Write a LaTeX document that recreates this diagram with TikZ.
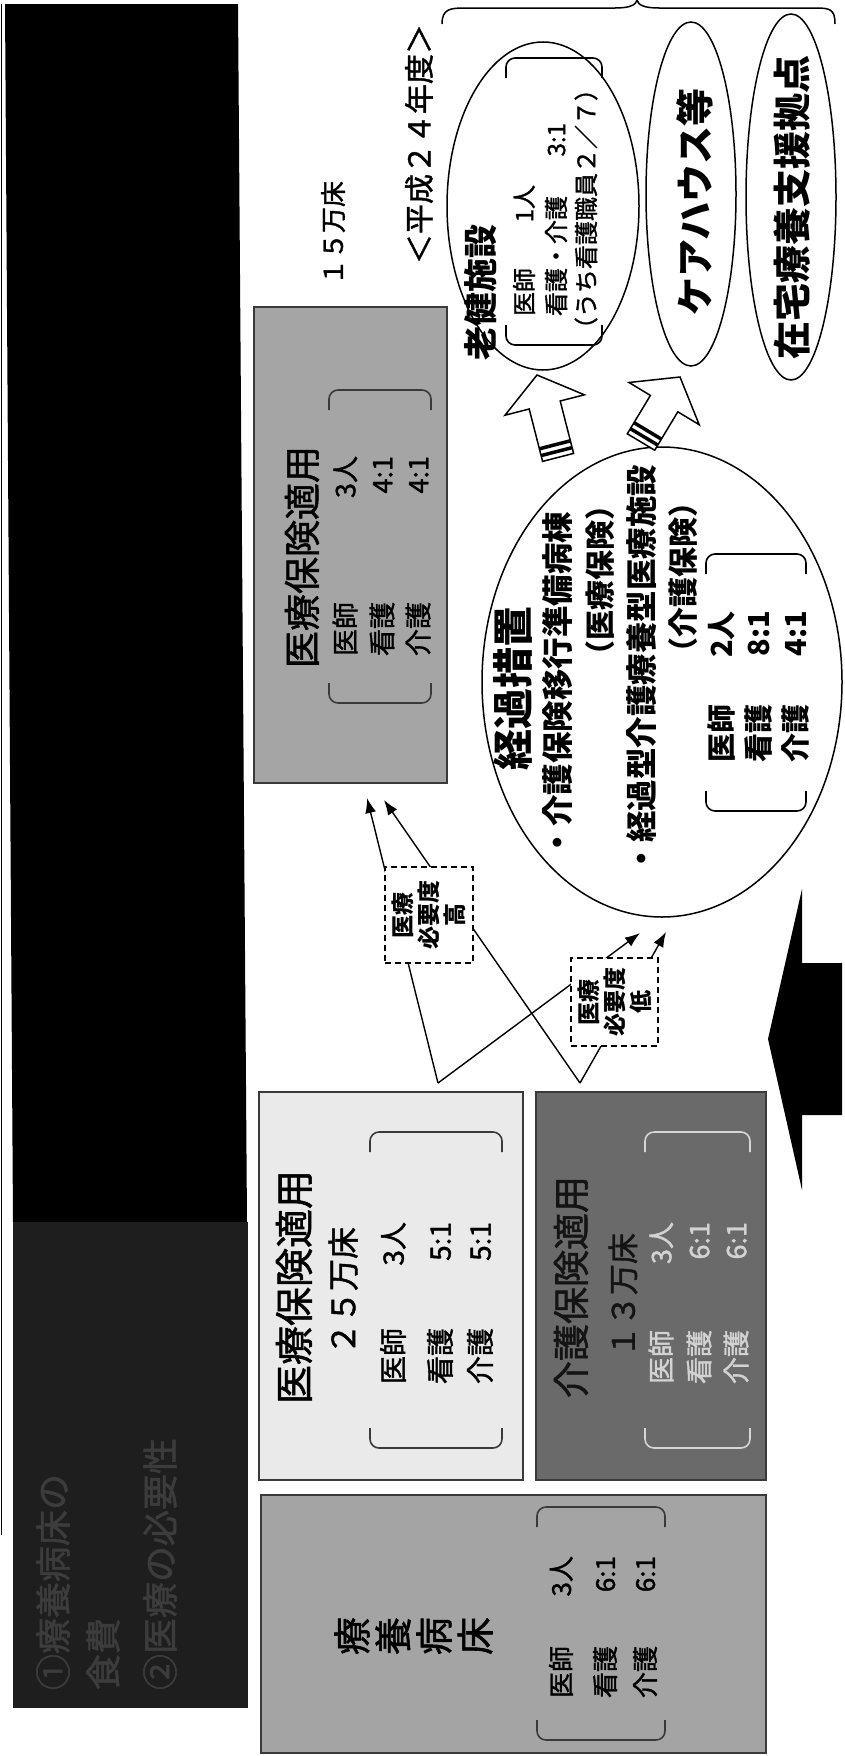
\documentclass[tikz,border=0pt]{standalone}
\usepackage{fontspec}
\setmainfont{Noto Sans CJK JP}[UprightFeatures={FakeBold=1.4}]
\usetikzlibrary{shapes.geometric,arrows.meta}
\definecolor{boxG}{HTML}{A5A5A5}
\definecolor{boxA}{HTML}{EAEAEA}
\definecolor{boxB}{HTML}{6A6A6A}
\definecolor{boxC}{HTML}{A4A4A4}
\definecolor{darkrect}{HTML}{1E1E1E}
\definecolor{faint}{HTML}{3C3C3C}
\definecolor{edge}{HTML}{3A3A3A}
\definecolor{lightbrk}{HTML}{D6D6D6}
\definecolor{lighttxt}{HTML}{D2D2D2}
\newcommand\fsz[1]{\fontsize{#1}{#1}\selectfont}
\newcommand\rl[3]{\makebox[#3pt][l]{#1\hfill#2}}
\newcommand\mybrk[5]{%
  \draw[brk,#5] (#1,#3+20) -- (#1,#3) -- (#2,#3) -- (#2,#3+20);
  \draw[brk,#5] (#1,#4-20) -- (#1,#4) -- (#2,#4) -- (#2,#4-20);}
\begin{document}
\begin{tikzpicture}[x=1pt,y=-1pt,
  txt/.style={rotate=90, inner sep=0pt, outer sep=0pt},
  panel/.style={draw=edge, line width=1.5pt, anchor=north west, inner sep=0pt},
  oval/.style={ellipse, draw, line width=1.5pt, inner sep=0pt},
  dbox/.style={draw, dash pattern=on 6pt off 4pt, line width=1.5pt, fill=white, inner sep=0pt},
  linkarrow/.style={line width=1.4pt, -{Latex[length=15pt,width=11pt]}},
  brk/.style={line width=1.6pt, rounded corners=9pt},
  hollow/.style={draw, fill=white, line width=1.5pt, line join=miter}]
\useasboundingbox (0,0) rectangle (845,1756);
\fill[white] (0,0) rectangle (845,1756);

% left dark block
\fill[black] (5,4) -- (238,4) -- (247,1222) -- (13,1222) -- cycle;
\fill[darkrect] (13,1222) rectangle (248,1708);
\draw[line width=0.8pt] (1.5,4) -- (1.5,1535);
\node[txt, anchor=west, text=faint, font=\fsz{36}] (f1) at (53,1690) {①療養病床の};
\node[txt, anchor=west, text=faint, font=\fsz{36}] (f2) at (103,1690) {食費};
\node[txt, anchor=west, text=faint, font=\fsz{36}] (f3) at (160,1690) {②医療の必要性};

% gray box (upper)
\node[panel, fill=boxG, minimum width=193pt, minimum height=476pt] (G) at (253,306) {};
\node[txt, font=\fsz{37}] (gT) at (302,557) {医療保険適用};
\mybrk{329}{431}{390}{703}{draw=edge}
\node[txt, anchor=west, font=\fsz{27}] (g1) at (345,656) {\rl{医師}{3人}{200}};
\node[txt, anchor=west, font=\fsz{27}] (g2) at (382,656) {\rl{看護}{4:1}{200}};
\node[txt, anchor=west, font=\fsz{27}] (g3) at (418,656) {\rl{介護}{4:1}{200}};

% lower boxes
\node[panel, fill=boxA, minimum width=264pt, minimum height=388pt] (A) at (258,1091) {};
\node[txt, font=\fsz{39}] (aT) at (294,1287) {医療保険適用};
\node[txt, font=\fsz{32}] (aS) at (343,1291) {２５万床};
\mybrk{370}{502}{1132}{1448}{draw=edge}
\node[txt, anchor=west, font=\fsz{28}] (a1) at (393,1384) {\rl{医師}{3人}{162}};
\node[txt, anchor=west, font=\fsz{28}] (a2) at (440,1384) {\rl{看護}{5:1}{162}};
\node[txt, anchor=west, font=\fsz{28}] (a3) at (480,1384) {\rl{介護}{5:1}{162}};

\node[panel, fill=boxB, minimum width=230pt, minimum height=388pt] (B) at (535,1091) {};
\node[txt, font=\fsz{37}, text=black!92] (bT) at (571,1287) {介護保険適用};
\node[txt, font=\fsz{31}, text=black!92] (bS) at (623,1295) {１３万床};
\mybrk{645}{750}{1132}{1448}{draw=lightbrk}
\node[txt, anchor=west, font=\fsz{27}, text=lighttxt] (b1) at (661,1384) {\rl{医師}{3人}{162}};
\node[txt, anchor=west, font=\fsz{27}, text=lighttxt] (b2) at (699,1384) {\rl{看護}{6:1}{162}};
\node[txt, anchor=west, font=\fsz{27}, text=lighttxt] (b3) at (736,1384) {\rl{介護}{6:1}{162}};

\node[panel, fill=boxC, minimum width=505pt, minimum height=258pt] (C) at (260,1494) {};
\node[txt, font=\fsz{38}] (c01) at (352,1636) {療};
\node[txt, font=\fsz{38}] (c02) at (393,1636) {養};
\node[txt, font=\fsz{38}] (c03) at (434,1636) {病};
\node[txt, font=\fsz{38}] (c04) at (475,1636) {床};
\mybrk{537}{665}{1507}{1740}{draw=edge}
\node[txt, anchor=west, font=\fsz{26}] (c1) at (561,1698) {\rl{医師}{3人}{142}};
\node[txt, anchor=west, font=\fsz{26}] (c2) at (605,1698) {\rl{看護}{6:1}{142}};
\node[txt, anchor=west, font=\fsz{26}] (c3) at (645,1698) {\rl{介護}{6:1}{142}};

% top labels
\node[txt, font=\fsz{26}] (l15) at (333,233) {１５万床};
\node[txt, font=\fsz{30}] (lH24) at (419,144) {＜平成２４年度＞};

% brace
\draw[line width=1.5pt] (442,24) .. controls (442,9) and (450,8) .. (465,8) -- (615,8)
  .. controls (630,8) and (636,5) .. (637,0) .. controls (638,5) and (644,8) .. (659,8)
  -- (815,8) .. controls (830,8) and (835,9) .. (835,24);

% ellipses
\node[oval, minimum width=192pt, minimum height=328pt] (E1) at (543,206) {};
\node[txt, anchor=west, font=\bfseries\fsz{34}] (e1T) at (481,360) {老健施設};
\mybrk{506}{602}{58}{345}{draw=black}
\node[txt, anchor=west, font=\fsz{24}] (e11) at (524,316) {\rl{医師}{1人}{131}};
\node[txt, anchor=west, font=\fsz{24}] (e12) at (556,316) {\rl{看護・介護}{3:1}{193}};
\node[txt, anchor=west, font=\fsz{24}] (e13) at (586,341) {（うち看護職員２／７）};

\node[oval, minimum width=90pt, minimum height=344pt] (E2) at (691,194) {};
\node[txt, font=\bfseries\fsz{38}] (e2T) at (695,202) {ケアハウス等};
\node[oval, minimum width=90pt, minimum height=366pt] (E3) at (791,197) {};
\node[txt, font=\bfseries\fsz{38}] (e3T) at (792,207) {在宅療養支援拠点};

\node[oval, minimum width=360pt, minimum height=470pt] (E4) at (662,682) {};
\node[txt, font=\bfseries\fsz{41}] (e4T) at (513,688) {経過措置};
\node[txt, anchor=west, font=\bfseries\fsz{31.5}] (e41) at (558,858) {・介護保険移行準備病棟};
\node[txt, anchor=east, font=\bfseries\fsz{30}] (e42) at (600,490) {（医療保険）};
\node[txt, anchor=west, font=\bfseries\fsz{31.5}] (e43) at (641,874) {・経過型介護療養型医療施設};
\node[txt, anchor=east, font=\bfseries\fsz{30}] (e44) at (683,487) {（介護保険）};
\mybrk{706}{806}{554}{811}{draw=black}
\node[txt, anchor=west, font=\bfseries\fsz{29}] (e45) at (721,762) {\rl{医師}{2人}{151}};
\node[txt, anchor=west, font=\bfseries\fsz{29}] (e46) at (758,762) {\rl{看護}{8:1}{151}};
\node[txt, anchor=west, font=\bfseries\fsz{29}] (e47) at (795,762) {\rl{介護}{4:1}{151}};

% hollow arrows
\filldraw[hollow] (537,375) -- (584.4,394.8) -- (560.2,401.0) -- (573.6,453.4)
  -- (542.6,461.4) -- (529.2,409.0) -- (505.0,415.2) -- cycle;
\draw[line width=3.5pt] (572.1,447.6) -- (541.1,455.6);
\draw[line width=3.5pt] (570.4,440.8) -- (539.4,448.8);
\filldraw[hollow] (680,377) -- (699.2,424.7) -- (677.8,411.8) -- (654.7,450.2)
  -- (627.3,433.8) -- (650.4,395.4) -- (629.0,382.5) -- cycle;
\draw[line width=3.5pt] (657.8,445.1) -- (630.4,428.7);
\draw[line width=3.5pt] (661.4,439.1) -- (634.0,422.7);

% connectors
\coordinate (P1) at (438,1083);
\coordinate (P2) at (580,1083);
\coordinate (tA) at (367,798);
\coordinate (tB) at (384,800);
\coordinate (tC) at (640,933);
\coordinate (tD) at (666,932);
\draw[linkarrow] (P1) -- (tA);
\draw[linkarrow] (P2) -- (tB);
\draw[linkarrow] (P1) -- (tC);
\draw[linkarrow] (P2) -- (tD);

% dashed boxes
\node[dbox, minimum width=88pt, minimum height=96pt] (D1) at (429,915) {};
\node[txt, align=center, font=\bfseries\fontsize{23}{26}\selectfont] (d1T) at (D1) {医療\\必要度\\高};
\node[dbox, minimum width=87pt, minimum height=88pt] (D2) at (614.5,1002) {};
\node[txt, align=center, font=\bfseries\fontsize{23}{26}\selectfont] (d2T) at (D2) {医療\\必要度\\低};

% big black arrow
\fill[black] (768,1039) -- (802,889) -- (802,963) -- (842,963) -- (842,1115)
  -- (802,1115) -- (802,1190) -- cycle;
\end{tikzpicture}
\end{document}
